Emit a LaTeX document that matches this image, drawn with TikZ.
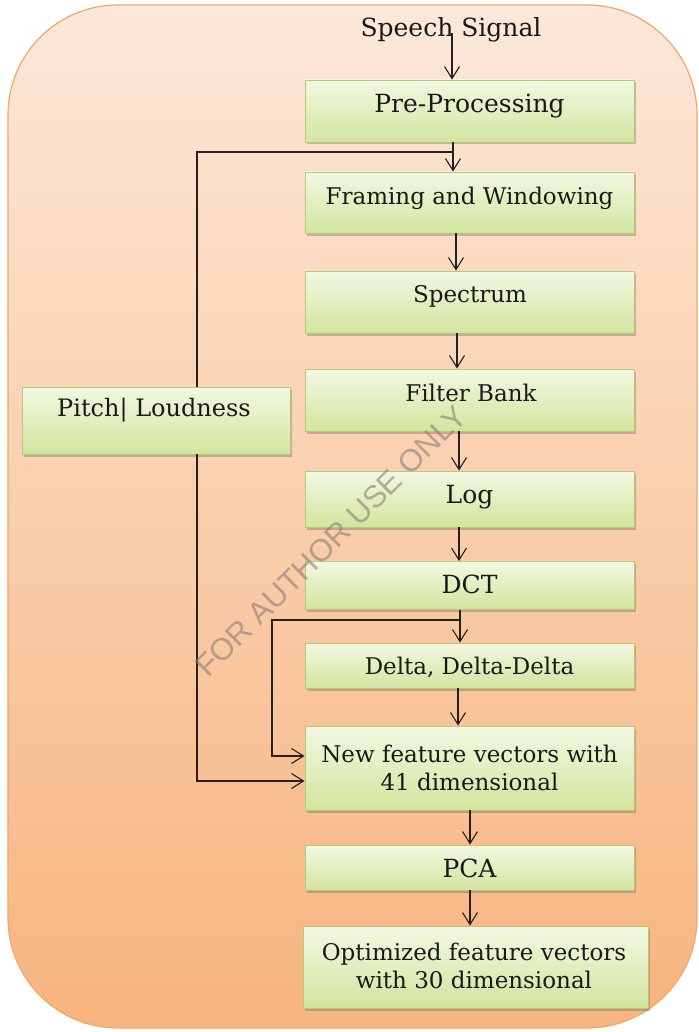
\documentclass[tikz,border=0pt]{standalone}
\usepackage{fontspec}
\setmainfont{DejaVu Serif}
\newfontfamily\wmfont{Liberation Sans}
\usetikzlibrary{arrows.meta,shadows}

\definecolor{bgtop}{RGB}{252,232,217}
\definecolor{bgmid}{RGB}{251,212,182}
\definecolor{bgbot}{RGB}{247,180,126}
\definecolor{bgline}{RGB}{240,168,105}
\definecolor{boxtop}{RGB}{242,248,226}
\definecolor{boxbot}{RGB}{210,229,158}
\definecolor{boxline}{RGB}{185,200,120}
\definecolor{linec}{RGB}{40,30,30}
\definecolor{wmgray}{RGB}{140,125,118}

\begin{document}
\begin{tikzpicture}[x=1pt,y=-1pt,
  box/.style={rectangle, draw=boxline, line width=0.9pt,
    top color=boxtop, bottom color=boxbot, inner sep=0pt,
    minimum width=329pt,
    drop shadow={shadow xshift=1.5pt, shadow yshift=-2.5pt, opacity=0.3, fill=black!70}},
  txt/.style={inner sep=0pt, align=center, text=black!90, font=\fontsize{23}{28}\selectfont},
  bigtxt/.style={txt, font=\fontsize{25}{30}\selectfont},
  line/.style={draw=linec, line width=1.1pt},
  arr/.style={line, -{Straight Barb[length=12pt,width=15pt,line width=1.1pt]}},
  wm/.style={inner sep=0pt, text=wmgray, opacity=0.6, font=\wmfont\fontsize{31}{31}\selectfont}
]
\useasboundingbox (0,0) rectangle (698,1032);
\fill[white] (0,0) rectangle (698,1032);

% rounded panel behind the flow chart
\draw[bgline, line width=1.2pt, top color=bgtop, middle color=bgmid, bottom color=bgbot,
  rounded corners=110pt] (8,5) rectangle (697,1028);

% processing blocks
\node[box, minimum height=62pt] (pre)   at (469.5,111)   {};
\node[box, minimum height=61pt] (fw)    at (469.5,202.5) {};
\node[box, minimum height=62pt] (spec)  at (469.5,302)   {};
\node[box, minimum height=62pt] (fb)    at (469.5,400)   {};
\node[box, minimum height=56pt] (log)   at (469.5,499)   {};
\node[box, minimum height=48pt] (dct)   at (469.5,585.5) {};
\node[box, minimum height=45pt] (delta) at (469.5,665.5) {};
\node[box, minimum height=84pt] (newf)  at (469.5,768)   {};
\node[box, minimum height=45pt] (pca)   at (469.5,867.5) {};
\node[box, minimum width=345pt, minimum height=82pt] (opt) at (475.5,967) {};
\node[box, minimum width=268pt, minimum height=67pt] (pitch) at (156,420.5) {};

% block captions
\node[bigtxt] (speech)  at (451,30)    {Speech Signal};
\node[bigtxt] (pre-t)   at (469.5,106) {Pre-Processing};
\node[txt]    (fw-t)    at (469.5,198) {Framing and Windowing};
\node[txt]    (spec-t)  at (470,296)   {Spectrum};
\node[txt]    (fb-t)    at (471,393)   {Filter Bank};
\node[bigtxt] (log-t)   at (469.5,497) {Log};
\node[bigtxt] (dct-t)   at (469.5,584) {DCT};
\node[txt]    (delta-t) at (469.5,667) {Delta, Delta-Delta};
\node[txt]    (newf-t)  at (469.5,768) {New feature vectors with\\41 dimensional};
\node[bigtxt] (pca-t)   at (469.5,868) {PCA};
\node[txt]    (opt-t)   at (474,966)   {Optimized feature vectors\\with 30 dimensional};
\node[txt, font=\fontsize{24}{28}\selectfont] (pitch-t) at (154,410) {Pitch|\ Loudness};

% arrow columns and branch points
\coordinate (k1) at (452,0);
\coordinate (k2) at (453,0);
\coordinate (k3) at (456,0);
\coordinate (k4) at (457,0);
\coordinate (k5) at (459,0);
\coordinate (k6) at (460,0);
\coordinate (k7) at (458,0);
\coordinate (k8) at (470,0);
\coordinate (xl) at (197,0);
\coordinate (xm) at (272,0);
\coordinate (j1) at (453,152);
\coordinate (j2) at (460,620);

% main chain
\draw[arr] (speech.center -| k1) ++(0,3) -- (pre.north -| k1);
\draw[arr] (pre.south -| k2) -- (fw.north -| k2);
\draw[arr] (fw.south -| k3) -- (spec.north -| k3);
\draw[arr] (spec.south -| k4) -- (fb.north -| k4);
\draw[arr] (fb.south -| k5) -- (log.north -| k5);
\draw[arr] (log.south -| k5) -- (dct.north -| k5);
\draw[arr] (dct.south -| k6) -- (delta.north -| k6);
\draw[arr] (delta.south -| k7) -- (newf.north -| k7);
\draw[arr] (newf.south -| k8) -- (pca.north -| k8);
\draw[arr] (pca.south -| k8) -- (opt.north -| k8);

% pitch / loudness side path
\draw[line] (j1) -- (j1 -| xl) -- (pitch.north -| xl);
\draw[arr] (pitch.south -| xl) |- ([yshift=-13pt]newf.west);

% MFCC bypass into the combined vector
\draw[arr] (j2) -- (j2 -| xm) |- ([yshift=12pt]newf.west);

% watermark
\node[wm, rotate=45] (mark) at (331,541) {FOR AUTHOR USE ONLY};
\end{tikzpicture}
\end{document}
